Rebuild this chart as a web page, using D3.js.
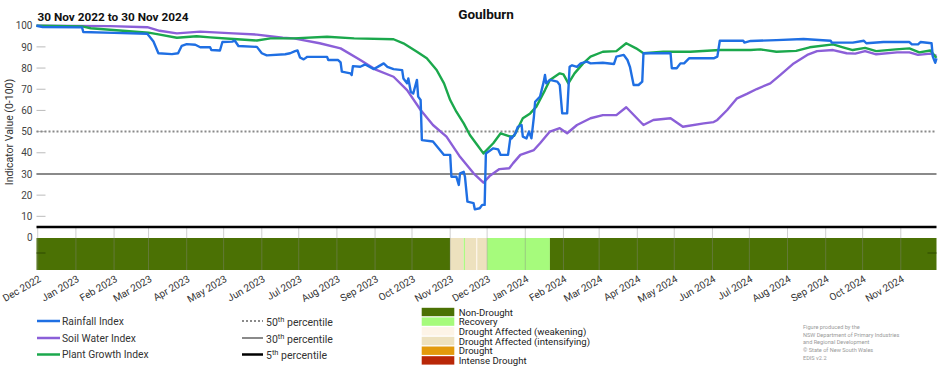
<!DOCTYPE html>
<html>
<head>
<meta charset="utf-8">
<script src="https://cdn.jsdelivr.net/npm/d3@7"></script>
<style>
  html, body { margin: 0; padding: 0; background: #fff; }
  svg { display: block; font-family: Roboto, "Noto Sans", Arial, sans-serif; }
</style>
</head>
<body>
<svg id="chart" width="952" height="370"></svg>
<script>
// ---------------- DATA ----------------
const chartTitle = "Goulburn";
const periodLabel = "30 Nov 2022 to 30 Nov 2024";
const startDate = "2022-11-30";
const endDate = "2024-11-30";

const rainDates = ["2022-11-30","2022-12-05","2023-01-06","2023-01-07","2023-02-01","2023-02-28","2023-03-05","2023-03-09","2023-03-20","2023-03-25","2023-03-28","2023-04-01","2023-04-08","2023-04-12","2023-04-20","2023-04-21","2023-04-28","2023-04-30","2023-05-08","2023-05-10","2023-05-13","2023-05-28","2023-06-01","2023-06-05","2023-06-20","2023-06-24","2023-06-28","2023-06-30","2023-07-02","2023-07-05","2023-07-08","2023-07-24","2023-07-25","2023-08-02","2023-08-04","2023-08-05","2023-08-12","2023-08-13","2023-08-14","2023-08-20","2023-08-24","2023-08-31","2023-09-08","2023-09-11","2023-09-16","2023-09-23","2023-09-24","2023-09-27","2023-09-28","2023-09-30","2023-10-02","2023-10-05","2023-10-06","2023-10-08","2023-10-09","2023-10-18","2023-10-21","2023-10-27","2023-11-01","2023-11-02","2023-11-06","2023-11-08","2023-11-09","2023-11-12","2023-11-13","2023-11-15","2023-11-20","2023-11-21","2023-11-25","2023-11-27","2023-11-29","2023-11-30","2023-12-06","2023-12-10","2023-12-12","2023-12-18","2023-12-20","2023-12-21","2023-12-24","2023-12-26","2023-12-29","2023-12-30","2024-01-02","2024-01-04","2024-01-06","2024-01-08","2024-01-09","2024-01-13","2024-01-16","2024-01-17","2024-01-18","2024-01-21","2024-01-27","2024-01-29","2024-01-31","2024-02-04","2024-02-06","2024-02-08","2024-02-12","2024-02-15","2024-02-20","2024-02-23","2024-03-04","2024-03-13","2024-03-15","2024-03-21","2024-03-24","2024-03-26","2024-03-29","2024-04-02","2024-04-05","2024-04-06","2024-04-28","2024-04-29","2024-05-03","2024-05-06","2024-05-09","2024-05-13","2024-06-02","2024-06-05","2024-06-07","2024-06-26","2024-06-27","2024-07-02","2024-07-23","2024-08-14","2024-09-05","2024-09-06","2024-09-23","2024-10-02","2024-10-04","2024-10-18","2024-11-08","2024-11-10","2024-11-15","2024-11-17","2024-11-26","2024-11-27","2024-11-29","2024-11-30"];
const rainValues = [100,99.4,99.2,97.0,96.6,96.2,92.5,87.0,86.6,87.0,90.5,91.3,91.0,89.8,89.8,88.5,88.3,92.3,92.5,93.0,90.4,90.0,87.0,86.0,86.5,87.0,88.0,88.3,85.0,84.1,85.3,85.3,83.8,83.8,82.7,78.3,77.5,76.7,80.9,80.6,81.7,79.5,82.2,80.6,79.5,79.0,75.1,72.8,75.1,68.8,68.0,74.4,66.5,64.9,46.0,45.3,43.2,39.0,39.0,28.7,28.7,24.8,30.3,31.0,28.7,16.9,16.2,13.3,13.8,15.4,15.4,39.7,42.1,41.6,39.0,39.0,47.6,46.8,49.2,52.3,53.1,47.6,46.8,50.0,46.8,57.0,64.1,66.5,73.6,76.7,72.8,74.4,73.6,72.0,58.6,58.6,80.6,81.3,80.6,82.2,83.0,82.2,82.5,81.9,85.4,86.2,83.8,80.6,72.0,72.0,73.6,87.0,87.0,79.9,79.9,82.2,82.2,84.6,84.6,85.4,92.9,92.9,92.0,92.8,93.2,93.7,92.9,92.0,92.0,92.9,91.7,92.3,92.3,91.2,91.2,92.3,91.7,85.4,82.5,84.6];

const soilDates = ["2022-11-30","2023-01-29","2023-02-28","2023-03-10","2023-03-24","2023-04-12","2023-05-09","2023-05-28","2023-06-18","2023-06-27","2023-07-18","2023-08-04","2023-08-20","2023-09-02","2023-09-16","2023-09-27","2023-10-08","2023-10-18","2023-10-29","2023-11-09","2023-11-20","2023-11-28","2023-12-03","2023-12-11","2023-12-19","2023-12-22","2023-12-28","2024-01-08","2024-01-13","2024-01-21","2024-01-29","2024-02-04","2024-02-12","2024-02-23","2024-03-04","2024-03-15","2024-03-23","2024-04-06","2024-04-14","2024-04-28","2024-05-08","2024-05-25","2024-06-02","2024-06-05","2024-06-13","2024-06-21","2024-06-29","2024-07-07","2024-07-18","2024-07-26","2024-08-06","2024-08-17","2024-08-25","2024-09-07","2024-09-18","2024-09-25","2024-10-03","2024-10-12","2024-10-29","2024-11-08","2024-11-15","2024-11-25","2024-11-30"];
const soilValues = [100,99.8,99.3,97.6,96.4,97.2,96.4,95.8,94.3,94.0,91.7,89.3,83.8,79.1,75.9,69.6,60.2,53.1,47.6,38.1,30.3,25.9,29.0,32.3,32.7,35.0,39.0,41.3,44.5,50.0,51.6,49.2,53.1,56.3,57.8,57.8,61.5,53.1,55.5,56.3,52.3,53.9,54.5,55.5,60.2,65.7,67.8,70.1,72.8,76.7,82.2,86.2,88.0,88.5,87.0,86.8,88.0,86.5,87.4,87.4,86.2,86.8,85.8];

const plantDates = ["2022-11-30","2023-01-07","2023-01-13","2023-03-01","2023-03-08","2023-03-24","2023-04-09","2023-04-20","2023-05-09","2023-05-28","2023-06-08","2023-06-27","2023-07-24","2023-08-15","2023-09-16","2023-09-24","2023-10-05","2023-10-13","2023-10-21","2023-10-27","2023-11-01","2023-11-06","2023-11-12","2023-11-17","2023-11-23","2023-11-28","2023-12-06","2023-12-12","2023-12-20","2023-12-23","2023-12-30","2024-01-05","2024-01-10","2024-01-17","2024-01-21","2024-01-29","2024-02-01","2024-02-05","2024-02-10","2024-02-17","2024-02-23","2024-03-04","2024-03-15","2024-03-23","2024-03-31","2024-04-06","2024-04-22","2024-05-14","2024-06-07","2024-07-02","2024-07-10","2024-07-23","2024-08-08","2024-08-19","2024-09-07","2024-09-15","2024-09-23","2024-10-03","2024-10-12","2024-10-28","2024-11-08","2024-11-16","2024-11-25","2024-11-29","2024-11-30"];
const plantValues = [100,99.6,98.8,96.7,96.0,94.3,95.0,94.5,93.7,93.0,94.0,94.0,94.8,94.0,93.6,91.7,87.7,84.6,79.1,72.8,64.9,59.4,53.9,48.4,43.7,39.7,44.5,49.2,47.6,48.0,56.3,58.6,61.8,69.6,74.4,77.5,77.0,72.8,77.5,82.2,85.4,87.7,88.0,91.7,89.3,87.0,87.7,87.7,88.5,88.5,88.8,87.7,88.1,89.8,91.2,89.8,88.5,89.5,88.0,88.8,89.3,87.4,88.3,85.4,84.8];

// Drought category timeline (start, end, category)
const droughtStarts = ["2022-11-30","2023-11-01","2023-11-12","2023-11-13","2023-11-22","2023-11-23","2023-12-01","2024-01-21"];
const droughtEnds   = ["2023-11-01","2023-11-12","2023-11-13","2023-11-22","2023-11-23","2023-12-01","2024-01-21","2024-11-30"];
const droughtCats   = ["Non-Drought","Drought Affected (intensifying)","Recovery","Drought Affected (intensifying)","Drought Affected (weakening)","Drought Affected (intensifying)","Recovery","Non-Drought"];

const categoryNames  = ["Non-Drought","Recovery","Drought Affected (weakening)","Drought Affected (intensifying)","Drought","Intense Drought"];
const categoryColors = ["#4b7104","#a6fb7c","#fdf4e7","#ede1be","#e39a0c","#b92707"];

const seriesNames  = ["Rainfall Index","Soil Water Index","Plant Growth Index"];
const seriesColors = ["#1f6fe3","#8b5fd8","#1ba84c"];

const percentileValues = [50, 30, 5];
const percentileLabels = ["50", "30", "5"];
const percentileColors = ["#8a8a8a", "#8a8a8a", "#000000"];

const yTicks = [0,10,20,30,40,50,60,70,80,90,100];
const yAxisTitle = "Indicator Value (0-100)";
const footnoteLines = ["Figure produced by the","NSW Department of Primary Industries","and Regional Development","\u00A9 State of New South Wales","EDIS v2.2"];

// ---------------- DRAW ----------------
const parse = d3.utcParse("%Y-%m-%d");
const svg = d3.select("#chart");

const x = d3.scaleUtc().domain([parse(startDate), parse(endDate)]).range([36.5, 936.5]);
const y = d3.scaleLinear().domain([0, 100]).range([237.5, 25.7]);
const bandTop = 238, bandBottom = 270;

// Drought band
const bandData = droughtCats.map((c, i) => ({s: parse(droughtStarts[i]), e: parse(droughtEnds[i]), c}));
const catColor = d3.scaleOrdinal().domain(categoryNames).range(categoryColors);
svg.append("g").selectAll("rect").data(bandData).join("rect")
  .attr("x", d => x(d.s)).attr("width", d => Math.max(0.5, x(d.e) - x(d.s)))
  .attr("y", bandTop).attr("height", bandBottom - bandTop)
  .attr("fill", d => catColor(d.c));

// month gridlines in lower panel
const months = d3.utcMonth.range(d3.utcMonth.ceil(parse(startDate)), parse(endDate));
svg.append("g").selectAll("line").data(months).join("line")
  .attr("x1", d => x(d)).attr("x2", d => x(d))
  .attr("y1", y(5)).attr("y2", bandBottom)
  .attr("stroke", "#888").attr("stroke-opacity", 0.4).attr("stroke-width", 1);

// small band ticks
svg.append("line").attr("x1", x.range()[0]).attr("x2", x.range()[0] + 9)
  .attr("y1", 253).attr("y2", 253).attr("stroke", "#2f4a00").attr("stroke-width", 1);
svg.append("line").attr("x1", x.range()[1] - 9).attr("x2", x.range()[1])
  .attr("y1", 253).attr("y2", 253).attr("stroke", "#2f4a00").attr("stroke-width", 1);

// x axis labels
const fmt = d3.utcFormat("%b %Y");
svg.append("g").selectAll("text").data(months).join("text")
  .attr("transform", d => `translate(${x(d) + 4},281) rotate(-30)`)
  .attr("text-anchor", "end")
  .attr("font-size", 10).attr("fill", "#333")
  .text(d => fmt(d));

// y axis
const yAxis = d3.axisLeft(y).tickValues(yTicks).tickSize(0).tickPadding(4);
const yg = svg.append("g").attr("transform", `translate(${x.range()[0]},0)`).call(yAxis);
yg.select(".domain").remove();
yg.selectAll("text").attr("font-size", 10).attr("fill", "#444").attr("font-family", "Roboto, 'Noto Sans', Arial, sans-serif");
// inner tick marks
svg.append("g").selectAll("line").data(yTicks.filter(t => t > 0)).join("line")
  .attr("x1", x.range()[0]).attr("x2", x.range()[0] + 9)
  .attr("y1", d => y(d)).attr("y2", d => y(d))
  .attr("stroke", "#bbb").attr("stroke-width", 1);

svg.append("text").attr("transform", "translate(13,132) rotate(-90)")
  .attr("text-anchor", "middle").attr("font-size", 10.5).attr("fill", "#333")
  .text(yAxisTitle);

// percentile lines
percentileValues.forEach((p, i) => {
  svg.append("line").attr("x1", x.range()[0]).attr("x2", x.range()[1])
    .attr("y1", y(p)).attr("y2", y(p))
    .attr("stroke", percentileColors[i])
    .attr("stroke-width", i === 2 ? 2.5 : 2)
    .attr("stroke-dasharray", i === 0 ? "2,2" : null);
});

// series lines
const allSeries = [
  {dates: rainDates, values: rainValues},
  {dates: soilDates, values: soilValues},
  {dates: plantDates, values: plantValues}
];
const line = d3.line().x(d => x(d[0])).y(d => y(d[1]));
// draw order: soil, plant, rainfall on top
[1, 2, 0].forEach(i => {
  const s = allSeries[i];
  const pts = s.dates.map((d, j) => [parse(d), s.values[j]]);
  svg.append("path").datum(pts).attr("d", line)
    .attr("fill", "none").attr("stroke", seriesColors[i])
    .attr("stroke-width", 2.4).attr("stroke-linejoin", "round");
});

// titles
svg.append("text").attr("x", 486).attr("y", 19).attr("text-anchor", "middle")
  .attr("font-size", 13.5).attr("font-weight", "bold").attr("fill", "#111").text(chartTitle);
svg.append("text").attr("x", 37.5).attr("y", 21).attr("font-size", 11.8)
  .attr("font-weight", "bold").attr("fill", "#111").text(periodLabel);

// legend: series
const legYs = [321, 338, 354.5];
seriesNames.forEach((n, i) => {
  svg.append("line").attr("x1", 37).attr("x2", 60).attr("y1", legYs[i]).attr("y2", legYs[i])
    .attr("stroke", seriesColors[i]).attr("stroke-width", 2.5);
  svg.append("text").attr("x", 62).attr("y", legYs[i] + 3.8).attr("font-size", 10.3)
    .attr("fill", "#333").text(n);
});

// legend: percentiles
percentileLabels.forEach((p, i) => {
  svg.append("line").attr("x1", 242).attr("x2", 263).attr("y1", legYs[i]).attr("y2", legYs[i])
    .attr("stroke", percentileColors[i]).attr("stroke-width", i === 2 ? 2.5 : 2)
    .attr("stroke-dasharray", i === 0 ? "2,2" : null);
  const t = svg.append("text").attr("x", 266).attr("y", legYs[i] + 4.5).attr("font-size", 10.5).attr("fill", "#333");
  t.append("tspan").text(p);
  t.append("tspan").attr("dy", -4).attr("font-size", 7.5).text("th");
  t.append("tspan").attr("dy", 4).text(" percentile");
});

// legend: drought categories
const catYs = [312, 321.6, 331.3, 341, 350.7, 360.4];
categoryNames.forEach((n, i) => {
  svg.append("rect").attr("x", 421.7).attr("y", catYs[i] - 4.2).attr("width", 32.6).attr("height", 8.4)
    .attr("fill", categoryColors[i]);
  svg.append("text").attr("x", 458.7).attr("y", catYs[i] + 3.5).attr("font-size", 9.6)
    .attr("fill", "#222").text(n);
});

// footnote
footnoteLines.forEach((t, i) => {
  svg.append("text").attr("x", 803).attr("y", 328.8 + i * 7.7).attr("font-size", 5.6)
    .attr("fill", "#9a9a9a").text(t);
});
</script>
</body>
</html>
